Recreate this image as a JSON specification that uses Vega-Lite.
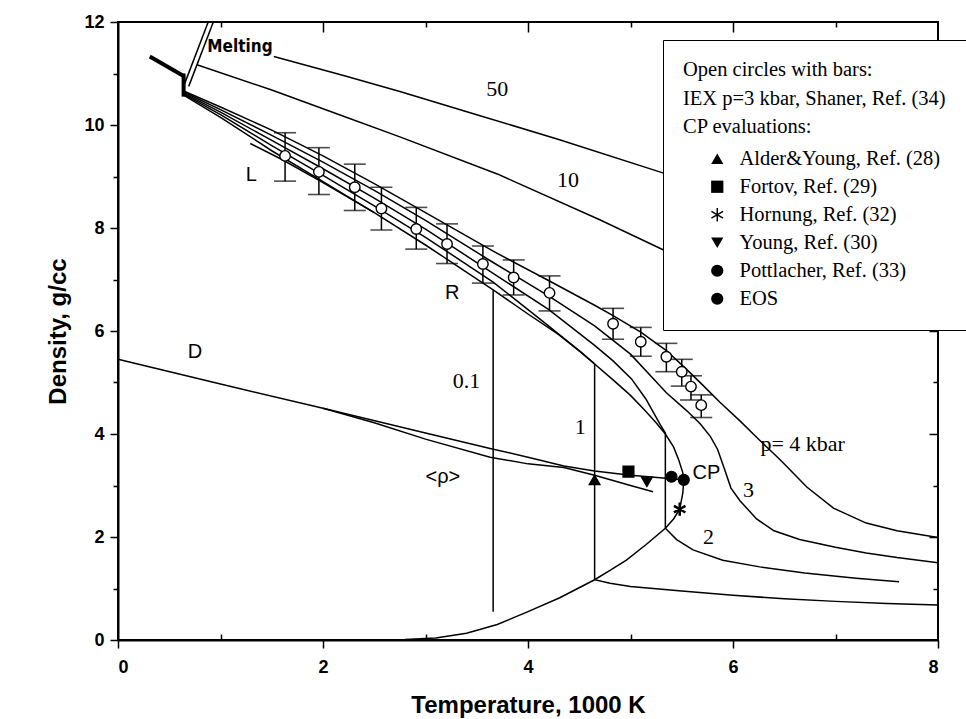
{
  "$schema": "https://vega.github.io/schema/vega-lite/v6.json",
  "width": 820,
  "height": 618,
  "autosize": {"type": "none"},
  "padding": {"left": 118, "top": 22, "right": 28, "bottom": 79},
  "background": "white",
  "config": {
    "view": {"stroke": "black", "strokeWidth": 2},
    "axis": {"grid": false, "domainColor": "black", "domainWidth": 2, "tickColor": "black", "tickWidth": 1.5, "labelColor": "black", "titleColor": "black"}
  },
  "datasets": {
    "curves": [
      {"c":"50","T":1.52,"rho":11.33},{"c":"50","T":2.2,"rho":10.96},{"c":"50","T":2.75,"rho":10.65},{"c":"50","T":3.5,"rho":10.2},{"c":"50","T":4.3,"rho":9.72},{"c":"50","T":5.3,"rho":9.08},{"c":"50","T":6.2,"rho":8.5},
      {"c":"10","T":0.77,"rho":11.17},{"c":"10","T":1.5,"rho":10.68},{"c":"10","T":2.2,"rho":10.17},{"c":"10","T":2.75,"rho":9.77},{"c":"10","T":3.7,"rho":9.05},{"c":"10","T":4.7,"rho":8.16},{"c":"10","T":5.4,"rho":7.5},{"c":"10","T":6.2,"rho":6.8},
      {"c":"m1","T":0.64,"rho":10.75},{"c":"m1","T":0.88,"rho":12.0},
      {"c":"m2","T":0.69,"rho":10.75},{"c":"m2","T":0.93,"rho":12.0},
      {"c":"p4","T":0.64,"rho":10.66},{"c":"p4","T":1.0,"rho":10.35},{"c":"p4","T":1.5,"rho":9.9},{"c":"p4","T":2.0,"rho":9.4},{"c":"p4","T":2.5,"rho":8.86},{"c":"p4","T":3.0,"rho":8.3},{"c":"p4","T":3.66,"rho":7.55},{"c":"p4","T":4.2,"rho":6.98},{"c":"p4","T":4.65,"rho":6.5},{"c":"p4","T":4.83,"rho":6.3},{"c":"p4","T":5.1,"rho":5.98},{"c":"p4","T":5.35,"rho":5.62},{"c":"p4","T":5.55,"rho":5.25},{"c":"p4","T":5.72,"rho":4.92},{"c":"p4","T":5.87,"rho":4.62},{"c":"p4","T":6.07,"rho":4.25},{"c":"p4","T":6.26,"rho":3.88},{"c":"p4","T":6.46,"rho":3.5},{"c":"p4","T":6.72,"rho":2.97},{"c":"p4","T":6.98,"rho":2.56},{"c":"p4","T":7.3,"rho":2.27},{"c":"p4","T":7.6,"rho":2.12},{"c":"p4","T":8.0,"rho":1.99},
      {"c":"p3","T":0.64,"rho":10.64},{"c":"p3","T":1.0,"rho":10.3},{"c":"p3","T":1.5,"rho":9.8},{"c":"p3","T":2.0,"rho":9.28},{"c":"p3","T":2.5,"rho":8.73},{"c":"p3","T":3.0,"rho":8.15},{"c":"p3","T":3.66,"rho":7.33},{"c":"p3","T":4.2,"rho":6.68},{"c":"p3","T":4.65,"rho":6.1},{"c":"p3","T":5.0,"rho":5.55},{"c":"p3","T":5.35,"rho":4.8},{"c":"p3","T":5.55,"rho":4.45},{"c":"p3","T":5.68,"rho":4.2},{"c":"p3","T":5.78,"rho":3.95},{"c":"p3","T":5.85,"rho":3.7},{"c":"p3","T":5.92,"rho":3.3},{"c":"p3","T":5.98,"rho":2.95},{"c":"p3","T":6.07,"rho":2.7},{"c":"p3","T":6.23,"rho":2.35},{"c":"p3","T":6.4,"rho":2.12},{"c":"p3","T":6.65,"rho":1.95},{"c":"p3","T":7.0,"rho":1.8},{"c":"p3","T":7.3,"rho":1.69},{"c":"p3","T":7.6,"rho":1.6},{"c":"p3","T":8.0,"rho":1.5},
      {"c":"p2","T":0.64,"rho":10.62},{"c":"p2","T":1.0,"rho":10.25},{"c":"p2","T":1.5,"rho":9.7},{"c":"p2","T":2.0,"rho":9.15},{"c":"p2","T":2.5,"rho":8.58},{"c":"p2","T":3.0,"rho":7.98},{"c":"p2","T":3.66,"rho":7.12},{"c":"p2","T":4.2,"rho":6.42},{"c":"p2","T":4.65,"rho":5.72},{"c":"p2","T":4.83,"rho":5.42},{"c":"p2","T":5.01,"rho":5.07},{"c":"p2","T":5.15,"rho":4.68},{"c":"p2","T":5.29,"rho":4.18},{"c":"p2","T":5.34,"rho":4.02},{"c":"p2","T":5.34,"rho":2.17},{"c":"p2","T":5.45,"rho":1.95},{"c":"p2","T":5.61,"rho":1.75},{"c":"p2","T":5.9,"rho":1.55},{"c":"p2","T":6.26,"rho":1.42},{"c":"p2","T":6.7,"rho":1.3},{"c":"p2","T":7.2,"rho":1.2},{"c":"p2","T":7.62,"rho":1.13},
      {"c":"p1","T":0.64,"rho":10.6},{"c":"p1","T":1.0,"rho":10.2},{"c":"p1","T":1.5,"rho":9.6},{"c":"p1","T":2.0,"rho":9.02},{"c":"p1","T":2.5,"rho":8.43},{"c":"p1","T":3.0,"rho":7.82},{"c":"p1","T":3.66,"rho":6.95},{"c":"p1","T":4.2,"rho":6.1},{"c":"p1","T":4.51,"rho":5.6},{"c":"p1","T":4.65,"rho":5.36},{"c":"p1","T":4.65,"rho":1.17},{"c":"p1","T":4.8,"rho":1.1},{"c":"p1","T":5.0,"rho":1.04},{"c":"p1","T":5.5,"rho":0.95},{"c":"p1","T":6.0,"rho":0.87},{"c":"p1","T":6.5,"rho":0.8},{"c":"p1","T":7.0,"rho":0.75},{"c":"p1","T":7.5,"rho":0.71},{"c":"p1","T":8.0,"rho":0.68},
      {"c":"p01","T":0.64,"rho":10.58},{"c":"p01","T":1.0,"rho":10.15},{"c":"p01","T":1.5,"rho":9.5},{"c":"p01","T":2.0,"rho":8.9},{"c":"p01","T":2.5,"rho":8.3},{"c":"p01","T":3.0,"rho":7.67},{"c":"p01","T":3.66,"rho":6.8},{"c":"p01","T":3.66,"rho":0.55},
      {"c":"L","T":1.29,"rho":9.64},{"c":"L","T":1.6,"rho":9.33},{"c":"L","T":2.0,"rho":8.88},{"c":"L","T":2.5,"rho":8.3},
      {"c":"bin","T":3.66,"rho":6.8},{"c":"bin","T":4.0,"rho":6.33},{"c":"bin","T":4.3,"rho":5.93},{"c":"bin","T":4.51,"rho":5.6},{"c":"bin","T":4.65,"rho":5.36},{"c":"bin","T":4.83,"rho":5.05},{"c":"bin","T":5.0,"rho":4.75},{"c":"bin","T":5.13,"rho":4.48},{"c":"bin","T":5.25,"rho":4.22},{"c":"bin","T":5.34,"rho":4.0},{"c":"bin","T":5.42,"rho":3.75},{"c":"bin","T":5.47,"rho":3.5},{"c":"bin","T":5.51,"rho":3.25},{"c":"bin","T":5.52,"rho":3.11},{"c":"bin","T":5.51,"rho":2.85},{"c":"bin","T":5.48,"rho":2.54},{"c":"bin","T":5.42,"rho":2.35},{"c":"bin","T":5.34,"rho":2.17},{"c":"bin","T":5.15,"rho":1.85},{"c":"bin","T":4.96,"rho":1.55},{"c":"bin","T":4.8,"rho":1.35},{"c":"bin","T":4.65,"rho":1.17},{"c":"bin","T":4.31,"rho":0.82},{"c":"bin","T":4.0,"rho":0.55},{"c":"bin","T":3.7,"rho":0.3},{"c":"bin","T":3.4,"rho":0.13},{"c":"bin","T":3.1,"rho":0.04},{"c":"bin","T":2.8,"rho":0.01},{"c":"bin","T":2.5,"rho":0.0},
      {"c":"D","T":0.0,"rho":5.45},{"c":"D","T":1.0,"rho":4.97},{"c":"D","T":2.0,"rho":4.5},{"c":"D","T":3.0,"rho":4.02},{"c":"D","T":3.63,"rho":3.72},{"c":"D","T":4.0,"rho":3.55},{"c":"D","T":4.35,"rho":3.38},{"c":"D","T":4.65,"rho":3.28},{"c":"D","T":5.0,"rho":3.2},{"c":"D","T":5.52,"rho":3.11},
      {"c":"avg","T":2.0,"rho":4.5},{"c":"avg","T":2.5,"rho":4.22},{"c":"avg","T":3.0,"rho":3.9},{"c":"avg","T":3.63,"rho":3.55},{"c":"avg","T":4.0,"rho":3.42},{"c":"avg","T":4.35,"rho":3.35},{"c":"avg","T":4.65,"rho":3.2},{"c":"avg","T":5.0,"rho":3.0},{"c":"avg","T":5.22,"rho":2.88}
    ],
    "thick": [
      {"c":"solid","T":0.31,"rho":11.33},{"c":"solid","T":0.64,"rho":10.95},
      {"c":"drop","T":0.64,"rho":11.0},{"c":"drop","T":0.64,"rho":10.55}
    ],
    "bars": [
      {"T":1.63,"rho":9.40,"lo":8.91,"hi":9.85},{"T":1.96,"rho":9.09,"lo":8.65,"hi":9.56},{"T":2.31,"rho":8.79,"lo":8.34,"hi":9.24},{"T":2.57,"rho":8.38,"lo":7.96,"hi":8.79},{"T":2.91,"rho":7.98,"lo":7.59,"hi":8.40},{"T":3.21,"rho":7.69,"lo":7.31,"hi":8.08},{"T":3.56,"rho":7.30,"lo":6.93,"hi":7.65},{"T":3.86,"rho":7.04,"lo":6.70,"hi":7.38},{"T":4.21,"rho":6.74,"lo":6.39,"hi":7.07},{"T":4.83,"rho":6.14,"lo":5.84,"hi":6.44},{"T":5.10,"rho":5.79,"lo":5.51,"hi":6.07},{"T":5.35,"rho":5.50,"lo":5.21,"hi":5.76},{"T":5.50,"rho":5.21,"lo":4.93,"hi":5.45},{"T":5.59,"rho":4.92,"lo":4.66,"hi":5.13},{"T":5.69,"rho":4.56,"lo":4.32,"hi":4.76}
    ],
    "cp": [
      {"src":"Alder&Young, Ref. (28)","T":4.65,"rho":3.11},
      {"src":"Fortov, Ref. (29)","T":4.98,"rho":3.27},
      {"src":"Hornung, Ref. (32)","T":5.48,"rho":2.54},
      {"src":"Young, Ref. (30)","T":5.16,"rho":3.07},
      {"src":"Pottlacher, Ref. (33)","T":5.40,"rho":3.17},
      {"src":"EOS","T":5.52,"rho":3.11}
    ],
    "serif": [
      {"label":"50","T":3.7,"rho":10.7},{"label":"10","T":4.39,"rho":8.93},{"label":"0.1","T":3.4,"rho":5.02},{"label":"1","T":4.51,"rho":4.14},{"label":"3","T":6.15,"rho":2.91},{"label":"2","T":5.76,"rho":2.0},{"label":"p= 4 kbar","T":6.68,"rho":3.8}
    ],
    "sans": [
      {"label":"L","T":1.3,"rho":9.03},{"label":"R","T":3.26,"rho":6.73},{"label":"D","T":0.75,"rho":5.6},{"label":"CP","T":5.74,"rho":3.24},{"label":"<ρ>","T":3.17,"rho":3.17}
    ],
    "melt": [{"label":"Melting","T":1.19,"rho":11.52}],
    "carrier": [{"T":0,"rho":0}]
  },
  "layer": [
    {
      "layer": [
        {
          "data": {"name": "curves"},
          "mark": {"type": "line", "color": "black", "strokeWidth": 1.5},
          "encoding": {
            "x": {"field": "T", "type": "quantitative", "scale": {"domain": [0, 8], "nice": false, "zero": false},
                  "axis": {"values": [0,2,4,6,8], "format": "d", "tickSize": 8, "labelPadding": 10, "labelFont": "Liberation Sans", "labelFontWeight": "bold", "labelFontSize": 18, "title": "Temperature, 1000 K", "titleFont": "Liberation Sans", "titleFontWeight": "bold", "titleFontSize": 24, "titlePadding": 17}},
            "y": {"field": "rho", "type": "quantitative", "scale": {"domain": [0, 12], "nice": false, "zero": false},
                  "axis": {"values": [0,2,4,6,8,10,12], "format": "d", "tickSize": 8, "labelPadding": 6, "labelFont": "Liberation Sans", "labelFontWeight": "bold", "labelFontSize": 18, "title": "Density, g/cc", "titleFont": "Liberation Sans", "titleFontWeight": "bold", "titleFontSize": 24, "titlePadding": 13}},
            "detail": {"field": "c", "type": "nominal"},
            "order": {"value": null}
          }
        },
        {
          "data": {"name": "thick"},
          "mark": {"type": "line", "color": "black", "strokeWidth": 4},
          "encoding": {
            "x": {"field": "T", "type": "quantitative"},
            "y": {"field": "rho", "type": "quantitative"},
            "detail": {"field": "c", "type": "nominal"},
            "order": {"value": null}
          }
        },
        {
          "data": {"name": "bars"},
          "mark": {"type": "rule", "color": "black", "strokeWidth": 1.5},
          "encoding": {
            "x": {"field": "T", "type": "quantitative"},
            "y": {"field": "lo", "type": "quantitative"},
            "y2": {"field": "hi"}
          }
        },
        {
          "data": {"name": "bars"},
          "mark": {"type": "tick", "color": "black", "orient": "horizontal", "size": 22, "thickness": 1.6},
          "encoding": {
            "x": {"field": "T", "type": "quantitative"},
            "y": {"field": "lo", "type": "quantitative"}
          }
        },
        {
          "data": {"name": "bars"},
          "mark": {"type": "tick", "color": "black", "orient": "horizontal", "size": 22, "thickness": 1.6},
          "encoding": {
            "x": {"field": "T", "type": "quantitative"},
            "y": {"field": "hi", "type": "quantitative"}
          }
        },
        {
          "data": {"name": "bars"},
          "mark": {"type": "point", "shape": "circle", "filled": true, "fill": "white", "stroke": "black", "strokeWidth": 1.4, "size": 110, "opacity": 1},
          "encoding": {
            "x": {"field": "T", "type": "quantitative"},
            "y": {"field": "rho", "type": "quantitative"}
          }
        },
        {
          "data": {"name": "cp"},
          "mark": {"type": "point", "filled": true, "fill": "black", "stroke": "black", "strokeWidth": 1.2, "size": 120, "opacity": 1},
          "encoding": {
            "x": {"field": "T", "type": "quantitative"},
            "y": {"field": "rho", "type": "quantitative"},
            "shape": {
              "field": "src", "type": "nominal",
              "scale": {
                "domain": ["Alder&Young, Ref. (28)", "Fortov, Ref. (29)", "Hornung, Ref. (32)", "Young, Ref. (30)", "Pottlacher, Ref. (33)", "EOS"],
                "range": ["triangle-up", "square", "M-0.12,-1.1L0.12,-1.1L0.12,1.1L-0.12,1.1ZM-0.893,-0.654L1.013,0.446L0.893,0.654L-1.013,-0.446ZM-1.013,0.446L0.893,-0.654L1.013,-0.446L-0.893,0.654Z", "triangle-down", "circle", "circle"]
              },
              "legend": {
                "orient": "none", "legendX": 545, "legendY": 18,
                "title": ["Open circles with bars:", "IEX p=3 kbar, Shaner, Ref. (34)", "CP evaluations:"],
                "titleFont": "Liberation Serif", "titleFontSize": 20.5, "titleFontWeight": "normal", "titleColor": "black", "titleLineHeight": 28.5, "titlePadding": 11, "titleLimit": 500,
                "labelFont": "Liberation Serif", "labelFontSize": 20.5, "labelColor": "black", "labelLimit": 500, "labelOffset": 12,
                "symbolOffset": 24, "symbolSize": 150, "symbolFillColor": "black", "symbolStrokeColor": "black", "symbolStrokeWidth": 1.2,
                "rowPadding": 7, "padding": 20, "strokeColor": "black", "fillColor": "white", "cornerRadius": 0
              }
            }
          }
        },
        {
          "data": {"name": "serif"},
          "mark": {"type": "text", "font": "Liberation Serif", "fontSize": 22, "color": "black"},
          "encoding": {
            "x": {"field": "T", "type": "quantitative"},
            "y": {"field": "rho", "type": "quantitative"},
            "text": {"field": "label"}
          }
        },
        {
          "data": {"name": "sans"},
          "mark": {"type": "text", "font": "Liberation Sans", "fontSize": 20, "color": "black"},
          "encoding": {
            "x": {"field": "T", "type": "quantitative"},
            "y": {"field": "rho", "type": "quantitative"},
            "text": {"field": "label"}
          }
        },
        {
          "data": {"name": "melt"},
          "mark": {"type": "text", "font": "Liberation Sans Narrow, DejaVu Sans Condensed, Liberation Sans", "fontSize": 17, "fontWeight": "bold", "color": "black"},
          "encoding": {
            "x": {"field": "T", "type": "quantitative"},
            "y": {"field": "rho", "type": "quantitative"},
            "text": {"field": "label"}
          }
        }
      ]
    },
    {
      "data": {"name": "carrier"},
      "mark": {"type": "point", "opacity": 0},
      "encoding": {
        "x": {"field": "T", "type": "quantitative", "axis": {"orient": "bottom", "values": [1,3,5,7], "tickSize": -6, "labels": false, "domain": false, "title": null}},
        "y": {"field": "rho", "type": "quantitative", "axis": {"orient": "left", "values": [1,3,5,7,9,11], "tickSize": 5, "labels": false, "domain": false, "title": null}}
      }
    },
    {
      "data": {"name": "carrier"},
      "mark": {"type": "point", "opacity": 0},
      "encoding": {
        "x": {"field": "T", "type": "quantitative", "axis": {"orient": "top", "values": [2,4,6], "tickSize": -10, "labels": false, "domain": false, "title": null}},
        "y": {"field": "rho", "type": "quantitative", "axis": {"orient": "right", "values": [2,4,6,8,10], "tickSize": -9, "labels": false, "domain": false, "title": null}}
      }
    },
    {
      "data": {"name": "carrier"},
      "mark": {"type": "point", "opacity": 0},
      "encoding": {
        "x": {"field": "T", "type": "quantitative", "axis": {"orient": "top", "values": [1,3,5,7], "tickSize": -5, "labels": false, "domain": false, "title": null}},
        "y": {"field": "rho", "type": "quantitative", "axis": {"orient": "right", "values": [1,3,5,7,9,11], "tickSize": -5, "labels": false, "domain": false, "title": null}}
      }
    }
  ],
  "resolve": {"axis": {"x": "independent", "y": "independent"}}
}
